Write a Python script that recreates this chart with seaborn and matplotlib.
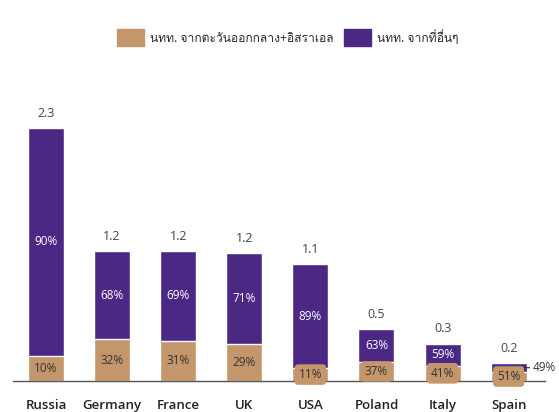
import matplotlib
matplotlib.use('Agg')
import matplotlib.pyplot as plt
from matplotlib import font_manager, ft2font
from matplotlib.patches import Patch
import seaborn as sns
import pandas as pd

countries = ['Russia', 'Germany', 'France', 'UK', 'USA', 'Poland', 'Italy', 'Spain']
totals = [2.3, 1.18, 1.18, 1.16, 1.06, 0.47, 0.34, 0.16]
mideast_pct = [10, 32, 31, 29, 11, 37, 41, 51]
other_pct = [90, 68, 69, 71, 89, 63, 59, 49]
legend_labels = ['นทท. จากตะวันออกกลาง+อิสราเอล', 'นทท. จากที่อื่นๆ']

TAN = '#C4966B'
PURPLE = '#4A2884'


def find_thai_family():
    # look for any installed font that carries Thai glyphs
    for f in font_manager.fontManager.ttflist:
        try:
            font = ft2font.FT2Font(f.fname)
            if font.get_char_index(ord('ก')) and font.get_char_index(ord('ๆ')):
                return f.name
        except Exception:
            continue
    return None


sns.set_style('white')
families = ['Open Sans', 'DejaVu Sans']
thai = find_thai_family()
if thai:
    families.append(thai)
plt.rcParams['font.family'] = families

df = pd.DataFrame({'country': countries, 'total': totals,
                   'mideast': [t * p / 100 for t, p in zip(totals, mideast_pct)]})

fig = plt.figure(figsize=(5.59, 4.12), dpi=100)
ax = fig.add_axes([13 / 559, 31 / 412, 532 / 559, 286 / 412])

sns.barplot(data=df, x='country', y='total', color=PURPLE, width=0.545, saturation=1, ax=ax)
sns.barplot(data=df, x='country', y='mideast', color=TAN, width=0.545, saturation=1, ax=ax)

ax.set_xlim(-0.5, 7.55)
ax.set_ylim(0, 2.6)
ax.set_xlabel('')
ax.set_ylabel('')
ax.set_yticks([])
for s in ['top', 'left', 'right']:
    ax.spines[s].set_visible(False)
ax.spines['bottom'].set_color('#555555')
ax.spines['bottom'].set_linewidth(1.0)
ax.tick_params(axis='x', length=0, pad=13, labelsize=9.5, labelcolor='#222222')
for lbl in ax.get_xticklabels():
    lbl.set_fontweight('semibold')

for i, (t, m, o) in enumerate(zip(totals, mideast_pct, other_pct)):
    tan_h = t * m / 100
    ax.annotate(f'{t:.1f}', (i, t), xytext=(0, 6), textcoords='offset points',
                ha='center', va='bottom', fontsize=9, color='#444444')
    small = tan_h < 0.2
    bbox = dict(boxstyle='round,pad=0.32,rounding_size=0.25', fc=TAN, ec='none') if small else None
    ax.text(i, tan_h / 2, f'{m}%', ha='center', va='center', fontsize=8.5,
            color='#333333', bbox=bbox, zorder=5)
    purple_h = t - tan_h
    if purple_h > 0.1:
        ax.text(i, tan_h + purple_h / 2, f'{o}%', ha='center', va='center',
                fontsize=8.5, color='white')
    else:
        ax.annotate(f'{o}%', (i + 0.24, tan_h + purple_h / 2), xytext=(6, 0),
                    textcoords='offset points', ha='left', va='center', fontsize=8.5,
                    color='#333333',
                    arrowprops=dict(arrowstyle='-', color='#333333', lw=0.9,
                                    shrinkA=0, shrinkB=0))

handles = [Patch(color=TAN), Patch(color=PURPLE)]
fig.legend(handles, legend_labels, loc='center', bbox_to_anchor=(0.515, 0.908), ncol=2,
           frameon=False, fontsize=8.7, handlelength=2.2, handleheight=1.8,
           columnspacing=0.9, handletextpad=0.5)

fig.savefig('out.png', dpi=100)
